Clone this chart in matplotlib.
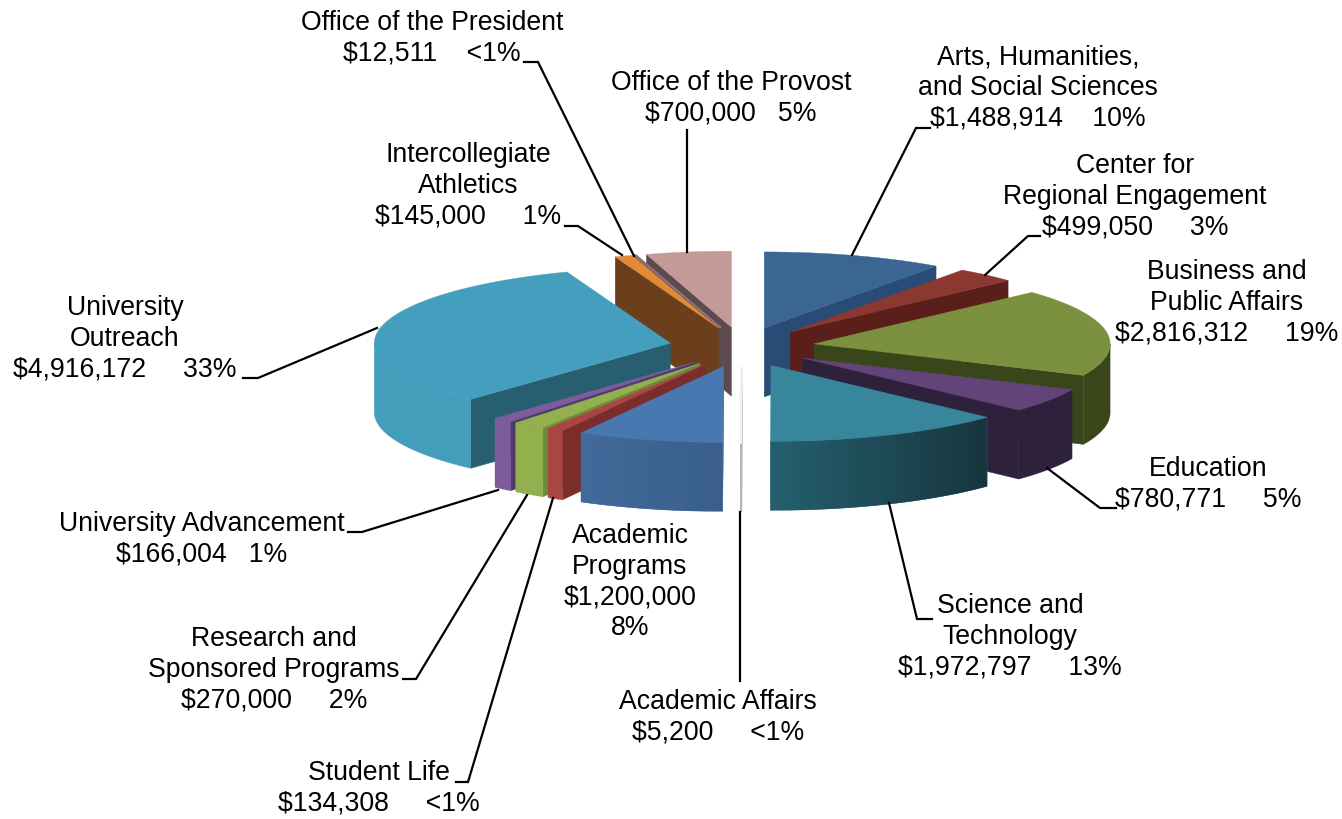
#!/usr/bin/env python3
# -*- coding: utf-8 -*-
import numpy as np
import matplotlib
matplotlib.use("Agg")
import matplotlib.pyplot as plt
from matplotlib.patches import Polygon

# data
departments = ["Arts, Humanities,\nand Social Sciences", "Center for\nRegional Engagement",
               "Business and\nPublic Affairs", "Education", "Science and\nTechnology",
               "Academic Affairs", "Academic\nPrograms", "Student Life",
               "Research and\nSponsored Programs", "University Advancement",
               "University\nOutreach", "Intercollegiate\nAthletics",
               "Office of the President", "Office of the Provost"]
amounts = [1488914, 499050, 2816312, 780771, 1972797, 5200, 1200000, 134308,
           270000, 166004, 4916172, 145000, 12511, 700000]
pct_labels = ["10%", "3%", "19%", "5%", "13%", "<1%", "8%", "<1%", "2%", "1%", "33%", "1%", "<1%", "5%"]
amount_gaps = ["    ", "     ", "     ", "     ", "     ", "     ", "\n", "     ", "     ", "   ", "     ", "     ", "    ", "   "]

# styles per slice
top_colors = ["#3B6694", "#8A3830", "#7B9140", "#634478", "#37869C", "#F2EFEE", "#4878B0", "#A94643",
              "#93B04F", "#7D5C9E", "#449FBE", "#E28A37", "#8A7376", "#C49A98"]
face_colors = ["#284C76", "#5A1F1A", "#394619", "#2E213C", "#1F5260", "#BDB2AE", "#3E6592", "#7B2D2C",
               "#6F8A3A", "#4F3A6B", "#285F70", "#6B3F1C", "#5C4A4E", "#5C4A4E"]
wall_left = ["#284C76", "#5A1F1A", "#394619", "#2E213C", "#25606F", "#BDB2AE", "#426A9A", "#A94643",
             "#93B04F", "#7D5C9E", "#429EBB", "#6B3F1C", "#5C4A4E", "#5C4A4E"]
wall_right = ["#284C76", "#5A1F1A", "#394619", "#2E213C", "#17363F", "#BDB2AE", "#3A5F8A", "#A94643",
              "#93B04F", "#7D5C9E", "#429EBB", "#6B3F1C", "#5C4A4E", "#5C4A4E"]

# label layout (centre x, centre y)
label_pos = [(1038, 88), (1135, 197), (1227, 303), (1208, 484), (1010, 637), (718, 717), (630, 582),
             (379, 788), (274, 670), (202, 539), (125, 339), (468, 186), (432, 38), (731, 98)]
leaders = [[(930, 128), (916, 128), (852, 255)],
           [(1040, 236), (1028, 236), (985, 275)],
           [(1116, 508), (1100, 508), (1047, 468)],
           [(932, 619), (917, 619), (889, 503)],
           [(740, 512), (740, 681)],
           [(456, 782), (468, 782), (553, 498)],
           [(403, 679), (416, 679), (527, 495)],
           [(348, 532), (362, 532), (498, 490)],
           [(243, 378), (258, 378), (377, 328)],
           [(565, 226), (578, 226), (622, 255)],
           [(524, 62), (538, 62), (634, 256)],
           [(687, 130), (687, 252)]]

CX, CY = 742, 347
EX, EY = 73, 20      # explode offset
RX, RY = 296, 76     # top ellipse
DEPTH = 69


def arc(a1, a2, ox, oy, dy=0, n=60):
    t = np.radians(np.linspace(a1, a2, n))
    return np.column_stack([ox + RX * np.sin(t), oy + dy - RY * np.cos(t)])


def draw_slice(ax, i, a1, a2, z):
    mid = np.radians((a1 + a2) / 2)
    ox = CX + EX * np.sin(mid)
    oy = CY - EY * np.cos(mid)
    lw = 1.2 if a2 - a1 < 1 else 0.3

    def face(a):
        r = np.radians(a)
        p = (ox + RX * np.sin(r), oy - RY * np.cos(r))
        ax.fill([ox, p[0], p[0], ox], [oy, p[1], p[1] + DEPTH, oy + DEPTH],
                fc=face_colors[i], ec=face_colors[i], lw=lw, zorder=z)

    if np.sin(np.radians(a1)) < -1e-3:
        face(a1)
    if np.sin(np.radians(a2)) > 1e-3:
        face(a2)

    # outer wall, front half only, gradient runs left to right on screen
    w1, w2 = max(a1, 90), min(a2, 270)
    if w2 > w1:
        pts = np.vstack([arc(w1, w2, ox, oy), arc(w2, w1, ox, oy, dy=DEPTH)])
        c_l, c_r = matplotlib.colors.to_rgb(wall_left[i]), matplotlib.colors.to_rgb(wall_right[i])
        poly = Polygon(pts, closed=True, fc=c_l, ec=c_l, lw=lw, zorder=z + 0.1)
        ax.add_patch(poly)
        if c_l != c_r:
            ramp = np.array(c_l) + (np.array(c_r) - np.array(c_l)) * np.linspace(0, 1, 128)[:, None]
            im = ax.imshow(ramp[None, :, :], extent=[pts[:, 0].min(), pts[:, 0].max(), pts[:, 1].max(), pts[:, 1].min()],
                           aspect="auto", interpolation="bilinear", zorder=z + 0.2)
            im.set_clip_path(poly)

    pts = np.vstack([[ox, oy], arc(a1, a2, ox, oy)])
    ax.fill(pts[:, 0], pts[:, 1], fc=top_colors[i], ec=top_colors[i], lw=lw, zorder=z + 0.3)


fig = plt.figure(figsize=(13.42, 8.19), dpi=100)
ax = fig.add_axes([0, 0, 1, 1])
ax.axis("off")

total = sum(amounts)
edges = np.concatenate([[0], np.cumsum(amounts)]) / total * 360

# back to front: right side going clockwise, then left side going the other way
order = [0, 1, 2, 3, 4, 5] + [13, 12, 11, 10, 9, 8, 7, 6]
for z, i in enumerate(order):
    draw_slice(ax, i, edges[i], edges[i + 1], z + 1)

ax.set_xlim(0, 1342)
ax.set_ylim(819, 0)

for line in leaders:
    xs, ys = zip(*line)
    ax.plot(xs, ys, color="black", lw=1.6, solid_joinstyle="miter", zorder=30)

for i, name in enumerate(departments):
    txt = f"{name}\n${amounts[i]:,}{amount_gaps[i]}{pct_labels[i]}"
    ax.text(label_pos[i][0], label_pos[i][1], txt, ha="center", va="center", multialignment="center",
            family="Liberation Sans", fontsize=19.2, linespacing=1.23, color="black", parse_math=False, zorder=31)

fig.savefig("out.png", dpi=100)
